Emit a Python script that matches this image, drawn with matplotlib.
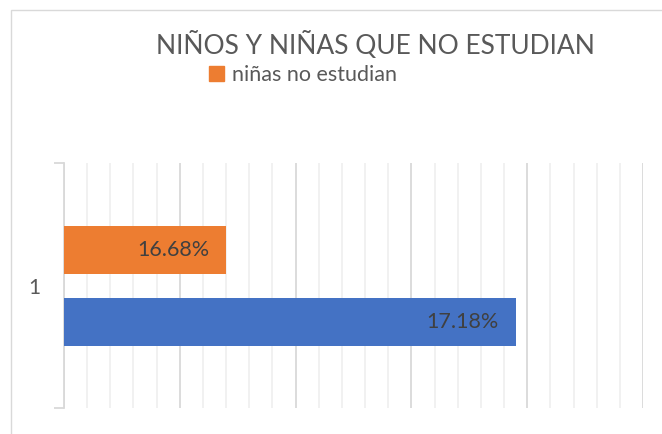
import matplotlib
matplotlib.use('Agg')
import matplotlib.pyplot as plt
from matplotlib.patches import Rectangle, Patch
from matplotlib.ticker import MultipleLocator

plt.rcParams['font.family'] = ['Lato', 'DejaVu Sans']

# datos
categories = ['1']
series_names = ['niños no estudian', 'niñas no estudian']
values = [0.1718, 0.1668]
colors = ['#4472C4', '#ED7D31']
offsets = [-0.147, 0.143]

fig = plt.figure(figsize=(6.62, 4.34), dpi=100)
ax = fig.add_axes([64 / 662, 1 - 408 / 434, (643 - 64) / 662, (408 - 163) / 434])

# marco del gráfico
fig.patches.append(Rectangle((11 / 662, -0.1), 1.2, 1 - 10 / 434 + 0.1,
                             transform=fig.transFigure, fill=False,
                             ec='#d9d9d9', lw=1.0))

for name, v, c, off in zip(series_names, values, colors, offsets):
    ax.barh(0.5 + off, v, height=0.196, color=c, label=name, zorder=3)
    ax.annotate(f'{v * 100:.2f}%', xy=(v, 0.5 + off), xytext=(-12, 0),
                textcoords='offset points', ha='right', va='center',
                fontsize=15.5, color='#404040', zorder=4)

ax.set_xlim(0.164, 0.174)
ax.set_ylim(0, 1)
ax.xaxis.set_major_locator(MultipleLocator(0.002))
ax.xaxis.set_minor_locator(MultipleLocator(0.0004))
ax.grid(axis='x', which='major', color='#d9d9d9', lw=1.3, zorder=0)
ax.grid(axis='x', which='minor', color='#f0f0f0', lw=1.3, zorder=0)
ax.tick_params(axis='x', which='both', length=0, labelbottom=False)

ax.set_yticks([0.5])
ax.set_yticklabels(categories, fontsize=15, color='#595959')
ax.set_yticks([0, 1], minor=True)
ax.tick_params(axis='y', which='major', length=0, pad=17)
ax.tick_params(axis='y', which='minor', length=7, color='#d9d9d9', width=1.3)

for s in ['top', 'right', 'bottom']:
    ax.spines[s].set_visible(False)
ax.spines['left'].set_color('#d9d9d9')
ax.spines['left'].set_linewidth(1.3)

fig.text(375 / 662, 1 - 45 / 434, 'NIÑOS Y NIÑAS QUE NO ESTUDIAN',
         ha='center', va='center', fontsize=19, color='#595959')

ax.legend(handles=[Patch(color=colors[1], label=series_names[1])],
          loc='center left', bbox_to_anchor=(209 / 662, 1 - 75 / 434),
          bbox_transform=fig.transFigure, frameon=False, fontsize=15.5,
          handlelength=0.7, handleheight=0.7, handletextpad=0.35,
          labelcolor='#595959', borderaxespad=0, borderpad=0)

fig.savefig('out.png', dpi=100)
